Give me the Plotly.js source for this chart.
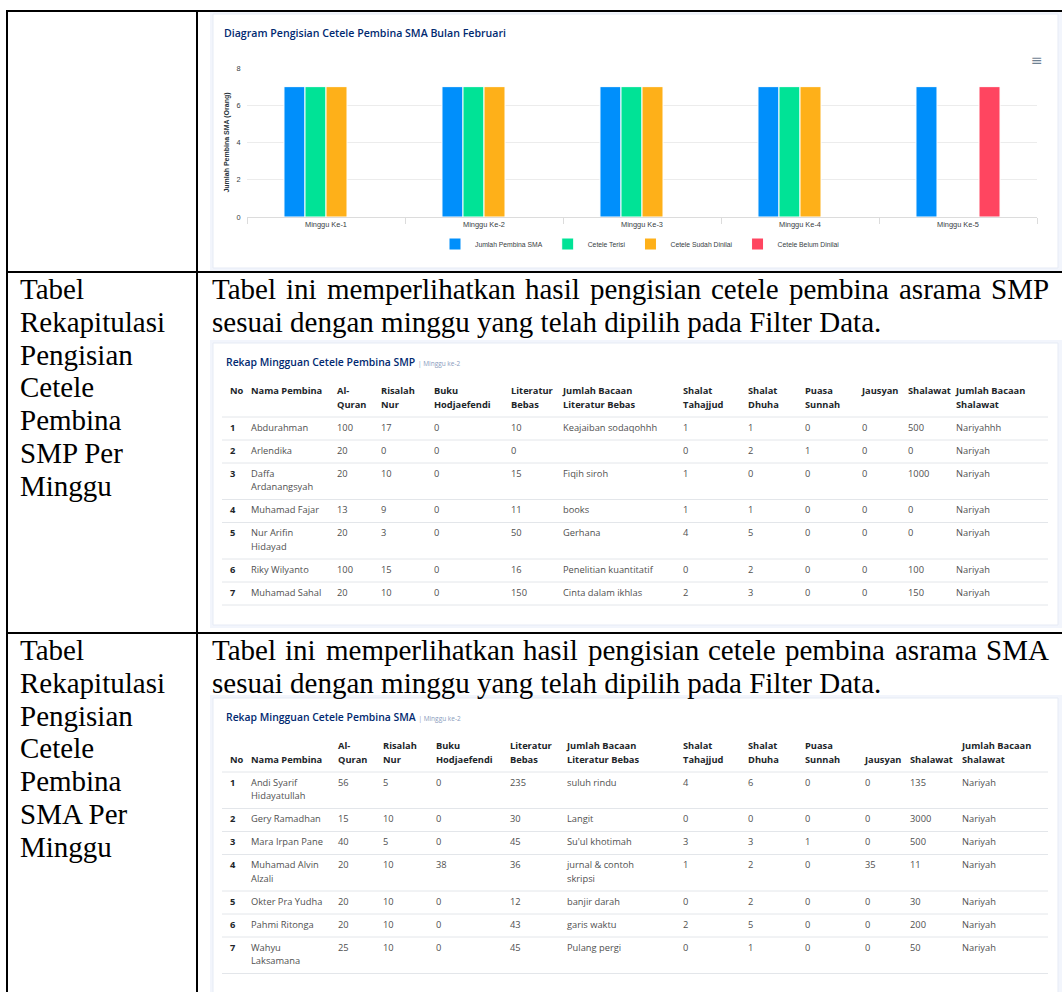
<!DOCTYPE html>
<html><head><meta charset="utf-8">
<script src="https://cdn.plot.ly/plotly-3.0.1.min.js"></script>
<style>html,body{margin:0;padding:0;background:#fff;overflow:hidden}#page{width:1062px;height:992px}</style>
</head><body><div id="page"></div>
<script>
// ================= DATA =================
const weeks = ["Minggu Ke-1","Minggu Ke-2","Minggu Ke-3","Minggu Ke-4","Minggu Ke-5"];
const seriesNames = ["Jumlah Pembina SMA","Cetele Terisi","Cetele Sudah Dinilai","Cetele Belum Dinilai"];
const jumlahPembina      = [7,7,7,7,7];
const ceteleTerisi       = [7,7,7,7,0];
const ceteleSudahDinilai = [7,7,7,7,0];
const ceteleBelumDinilai = [0,0,0,0,7];
const yTicks = [0,2,4,6,8];

const tableHeaders = ["No","Nama Pembina","Al-Quran","Risalah Nur","Buku Hodjaefendi","Literatur Bebas",
  "Jumlah Bacaan Literatur Bebas","Shalat Tahajjud","Shalat Dhuha","Puasa Sunnah","Jausyan","Shalawat","Jumlah Bacaan Shalawat"];

const smpNo        = [1,2,3,4,5,6,7];
const smpNama      = ["Abdurahman","Arlendika","Daffa Ardanangsyah","Muhamad Fajar","Nur Arifin Hidayad","Riky Wilyanto","Muhamad Sahal"];
const smpAlQuran   = [100,20,20,13,20,100,20];
const smpRisalah   = [17,0,10,9,3,15,10];
const smpBuku      = [0,0,0,0,0,0,0];
const smpLiteratur = [10,0,15,11,50,16,150];
const smpJudulLit  = ["Keajaiban sodaqohhh","","Fiqih siroh","books","Gerhana","Penelitian kuantitatif","Cinta dalam ikhlas"];
const smpTahajjud  = [1,0,1,1,4,0,2];
const smpDhuha     = [1,2,0,1,5,2,3];
const smpPuasa     = [0,1,0,0,0,0,0];
const smpJausyan   = [0,0,0,0,0,0,0];
const smpShalawat  = [500,0,1000,0,0,100,150];
const smpJudulShl  = ["Nariyahhh","Nariyah","Nariyah","Nariyah","Nariyah","Nariyah","Nariyah"];

const smaNo        = [1,2,3,4,5,6,7];
const smaNama      = ["Andi Syarif Hidayatullah","Gery Ramadhan","Mara Irpan Pane","Muhamad Alvin Alzali","Okter Pra Yudha","Pahmi Ritonga","Wahyu Laksamana"];
const smaAlQuran   = [56,15,40,20,20,20,25];
const smaRisalah   = [5,10,5,10,10,10,10];
const smaBuku      = [0,0,0,38,0,0,0];
const smaLiteratur = [235,30,45,36,12,43,45];
const smaJudulLit  = ["suluh rindu","Langit","Su'ul khotimah","jurnal & contoh skripsi","banjir darah","garis waktu","Pulang pergi"];
const smaTahajjud  = [4,0,3,1,0,2,0];
const smaDhuha     = [6,0,3,2,2,5,1];
const smaPuasa     = [0,0,1,0,0,0,0];
const smaJausyan   = [0,0,0,35,0,0,0];
const smaShalawat  = [135,3000,500,11,30,200,50];
const smaJudulShl  = ["Nariyah","Nariyah","Nariyah","Nariyah","Nariyah","Nariyah","Nariyah"];

// document text
const chartTitle = "Diagram Pengisian Cetele Pembina SMA Bulan Februari";
const smpTitle = "Rekap Mingguan Cetele Pembina SMP", smaTitle = "Rekap Mingguan Cetele Pembina SMA";
const weekTag = "| Minggu ke-2";
const leftSMP = ["Tabel","Rekapitulasi","Pengisian","Cetele","Pembina","SMP Per","Minggu"];
const leftSMA = ["Tabel","Rekapitulasi","Pengisian","Cetele","Pembina","SMA Per","Minggu"];
const descSMP = ["Tabel ini memperlihatkan hasil pengisian cetele pembina asrama SMP","sesuai dengan minggu yang telah dipilih pada Filter Data."];
const descSMA = ["Tabel ini memperlihatkan hasil pengisian cetele pembina asrama SMA","sesuai dengan minggu yang telah dipilih pada Filter Data."];

// ================= LAYOUT HELPERS =================
const W = 1062, H = 992;
const px = x => x / W, py = y => 1 - y / H;
const ctx = document.createElement('canvas').getContext('2d');
const SERIF = '"Liberation Serif","Times New Roman",serif';
const SANS_T = 'Open Sans';
const TXT = 9.3;

function wrapText(text, maxW, font) {
  ctx.font = font;
  const words = String(text).split(' ');
  const lines = []; let cur = '';
  words.forEach(w => {
    w.split(/(?<=-)/).forEach((p, j) => {
      const cand = cur === '' ? p : cur + (j === 0 ? ' ' : '') + p;
      if (cur !== '' && ctx.measureText(cand).width > maxW) { lines.push(cur); cur = p; }
      else cur = cand;
    });
  });
  lines.push(cur);
  return lines;
}

function buildTable(columns, colX, colMax, headerBottom, headerAlign) {
  const bodyFont = `400 ${TXT}px "${SANS_T}"`, boldFont = `700 ${TXT}px "${SANS_T}"`;
  const head = {x:[],y:[],text:[]}, noCol = {x:[],y:[],text:[]}, body = {x:[],y:[],text:[]}, sep = {x:[],y:[]};
  const x0 = 222, x1 = 1048;
  const hLines = tableHeaders.map((h, c) => wrapText(h, colMax[c], boldFont));
  const nH = Math.max(...hLines.map(l => l.length));
  hLines.forEach((ls, c) => ls.forEach((t, i) => {
    const k = headerAlign === 'top' ? (nH - 1 - i) : (ls.length - 1 - i);
    head.x.push(colX[c]); head.y.push(headerBottom - 11 - k * 14); head.text.push(t);
  }));
  sep.x.push(x0, x1, null); sep.y.push(headerBottom, headerBottom, null);
  let top = headerBottom;
  for (let r = 0; r < columns[0].length; r++) {
    const cells = columns.map((col, c) => wrapText(col[r], colMax[c], c === 0 ? boldFont : bodyFont));
    const nL = Math.max(...cells.map(l => l.length));
    cells.forEach((ls, c) => ls.forEach((t, i) => {
      const tg = c === 0 ? noCol : body;
      tg.x.push(colX[c]); tg.y.push(top + 11.5 + i * 13.5); tg.text.push(t);
    }));
    top += 23 + (nL - 1) * 13.5;
    sep.x.push(x0, x1, null); sep.y.push(top, top, null);
  }
  const common = {xaxis:'x2', yaxis:'y2', hoverinfo:'skip', showlegend:false, cliponaxis:false};
  const txt = (d, color, weight) => Object.assign({type:'scatter', mode:'text', x:d.x, y:d.y, text:d.text,
    textposition:'middle right', textfont:{family:SANS_T, size:TXT, color, weight}}, common);
  return [
    Object.assign({type:'scatter', mode:'lines', x:sep.x, y:sep.y, line:{color:'#e3e6ea', width:1}}, common),
    txt(head, '#212529', 700), txt(noCol, '#212529', 700), txt(body, '#505050', 400)
  ];
}

// ================= TRACES =================
const barColors = ['#008FFB','#00E396','#FEB019','#FF4560'];
const barSeries = [jumlahPembina, ceteleTerisi, ceteleSudahDinilai, ceteleBelumDinilai];
const traces = barSeries.map((v, i) => ({
  type:'bar', x:weeks, y:v, name:seriesNames[i], xaxis:'x', yaxis:'y', hoverinfo:'skip',
  marker:{color:barColors[i], line:{color:'#ffffff', width:1}}
}));

const smpCols = [smpNo,smpNama,smpAlQuran,smpRisalah,smpBuku,smpLiteratur,smpJudulLit,smpTahajjud,smpDhuha,smpPuasa,smpJausyan,smpShalawat,smpJudulShl];
const smaCols = [smaNo,smaNama,smaAlQuran,smaRisalah,smaBuku,smaLiteratur,smaJudulLit,smaTahajjud,smaDhuha,smaPuasa,smaJausyan,smaShalawat,smaJudulShl];
const smpColX = [230,251,337,381,434,511,563,683,748,805,862,908,956];
const smaColX = [230,251,338,383,436,510,567,683,748,805,865,910,962];
const smpColMax = [20,76,35,45,65,46,104,55,48,48,40,47,85];
const smaColMax = [20,76,35,45,65,46,96,55,48,48,40,47,85];
traces.push(...buildTable(smpCols, smpColX, smpColMax, 417, 'top'));
traces.push(...buildTable(smaCols, smaColX, smaColMax, 772, 'bottom'));

// ================= SHAPES =================
const rect = (x0,y0,x1,y1,fill,line) => ({type:'rect', xref:'paper', yref:'paper', x0:px(x0), x1:px(x1), y0:py(y1), y1:py(y0),
  fillcolor:fill, line:line||{width:0}, layer:'below'});
const hline = (x0,x1,y,w) => ({type:'line', xref:'paper', yref:'paper', x0:px(x0), x1:px(x1), y0:py(y), y1:py(y), line:{color:'#000', width:w}, layer:'above'});
const vline = (x,y0,y1,w) => ({type:'line', xref:'paper', yref:'paper', x0:px(x), x1:px(x), y0:py(y0), y1:py(y1), line:{color:'#000', width:w}, layer:'above'});

const shapes = [
  rect(210,11,1062,271,'#f2f5fc'), rect(213,14,1058,268,'#ffffff',{color:'#e6ebf5',width:1}),
  rect(210,340,1062,628,'#f2f5fc'), rect(213,343,1058,625,'#ffffff',{color:'#e6ebf5',width:1}),
  rect(210,695,1062,992,'#f2f5fc'), rect(213,698,1058,1000,'#ffffff',{color:'#e6ebf5',width:1}),
  hline(6,1062,11,2), vline(7,10,992,2), vline(197,10,992,2),
  hline(6,1062,272,2), hline(6,1062,633,2)
];

// ================= ANNOTATIONS =================
const ann = [];
const addText = (x, y, text, font, extra) => ann.push(Object.assign({xref:'x2', yref:'y2', x, y, xanchor:'left', yanchor:'middle',
  text, showarrow:false, font, borderpad:0}, extra||{}));
const serifFont = {family:SERIF, size:29, color:'#000'};

function justifiedLine(x0, x1, y, line) {
  ctx.font = `29px "Liberation Serif"`;
  const words = line.split(' ');
  const widths = words.map(w => ctx.measureText(w).width);
  const gap = (x1 - x0 - widths.reduce((a,b)=>a+b,0)) / (words.length - 1);
  let x = x0;
  words.forEach((w, i) => { addText(x, y, w, serifFont); x += widths[i] + gap; });
}
function docRow(leftLines, desc, y0) {
  leftLines.forEach((t, i) => addText(19, y0 + i * 32.8, t, serifFont));
  justifiedLine(211, 1048, y0, desc[0]);
  addText(211, y0 + 32.8, desc[1], serifFont);
}
docRow(leftSMP, descSMP, 289);
docRow(leftSMA, descSMA, 650);

const titleFam = '"Open Sans"';
addText(223, 33, chartTitle, {family:titleFam, size:10.6, color:'#012970', weight:600});
addText(225, 362, smpTitle + ' <span style="color:#899bbd;font-size:6.5px;font-weight:400">' + weekTag + '</span>', {family:titleFam, size:10.4, color:'#012970', weight:600});
addText(225, 717, smaTitle + ' <span style="color:#899bbd;font-size:6.5px;font-weight:400">' + weekTag + '</span>', {family:titleFam, size:10.4, color:'#012970', weight:600});
ann.push({xref:'x2', yref:'y2', x:1037, y:60, xanchor:'center', yanchor:'middle', text:'\u2261', showarrow:false,
  font:{family:'DejaVu Sans', size:14, color:'#6e8192'}});

// ================= LAYOUT =================
const axFont = {family:'"Liberation Sans",Arial,sans-serif', size:7.4, color:'#373d3f'};
const layout = {
  width:W, height:H, autosize:false, margin:{l:0,r:0,t:0,b:0,pad:0},
  paper_bgcolor:'#ffffff', plot_bgcolor:'rgba(0,0,0,0)',
  font:{family:'"Liberation Sans",Arial,sans-serif'},
  barmode:'group', bargap:0.468, bargroupgap:0,
  showlegend:true,
  legend:{orientation:'h', x:px(640), xanchor:'center', y:py(244), yanchor:'middle',
    font:{family:'"Liberation Sans",Arial,sans-serif', size:6.8, color:'#373d3f'},
    bgcolor:'rgba(0,0,0,0)', itemwidth:30, tracegroupgap:0},
  xaxis:{domain:[px(247), px(1037)], anchor:'y', type:'category', showgrid:false, showline:true, linecolor:'#dcdcdc', linewidth:1,
    ticks:'outside', tickson:'boundaries', ticklen:6, tickcolor:'#dcdcdc', tickfont:axFont, fixedrange:true},
  yaxis:{domain:[py(217), py(68)], anchor:'x', range:[0,8], tickvals:yTicks, showgrid:true, gridcolor:'#ececec', gridwidth:1,
    zeroline:false, showline:false, ticks:'outside', ticklen:4, tickcolor:'rgba(0,0,0,0)', tickfont:axFont, fixedrange:true,
    title:{text:'Jumlah Pembina SMA (Orang)', font:{family:'"Liberation Sans",Arial,sans-serif', size:7, color:'#263238', weight:700}, standoff:5}},
  xaxis2:{domain:[0,1], range:[0,W], anchor:'y2', visible:false, fixedrange:true},
  yaxis2:{domain:[0,1], range:[H,0], anchor:'x2', visible:false, fixedrange:true},
  shapes, annotations:ann
};

Plotly.newPlot('page', traces, layout, {displayModeBar:false, staticPlot:true});
</script>
</body></html>
